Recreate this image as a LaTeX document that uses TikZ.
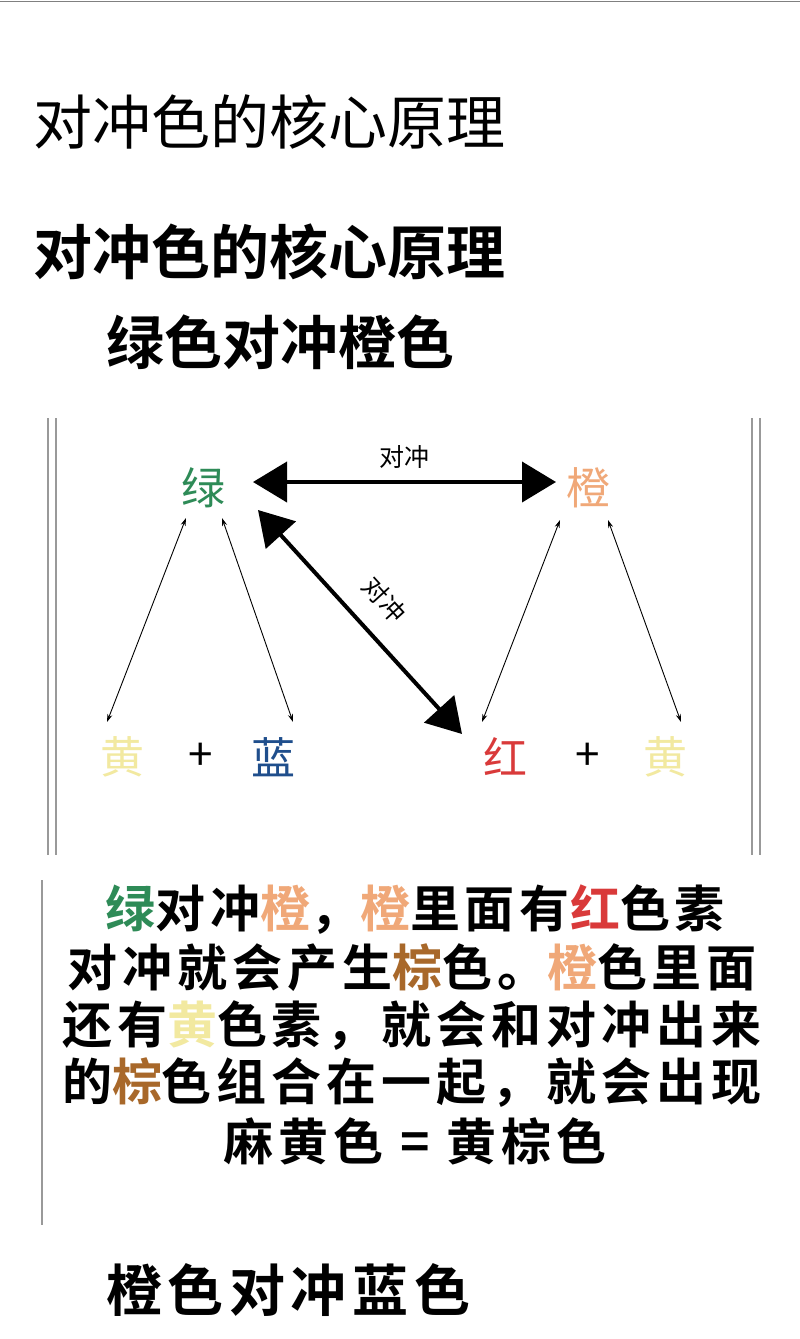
\documentclass[tikz,border=0pt]{standalone}
\usepackage{fontspec}
\usetikzlibrary{arrows.meta}
\newfontfamily\cjk{Noto Sans CJK SC}
\newfontfamily\cjkb[LetterSpace=10]{Noto Sans CJK SC Bold}
\definecolor{cgreen}{HTML}{2E8B57}
\definecolor{corange}{HTML}{F0A878}
\definecolor{cyellow}{HTML}{F2E9A0}
\definecolor{cblue}{HTML}{1F4E8C}
\definecolor{cred}{HTML}{D93A3A}
\definecolor{cbrown}{HTML}{A8682A}
\tikzset{
 lbl/.style={font=\cjk\fontsize{44}{48}\selectfont, inner sep=2pt},
 thin/.style={{Stealth[length=8pt,width=5pt]}-{Stealth[length=8pt,width=5pt]}, line width=0.9pt},
 thick/.style={{Triangle[length=34pt,width=40pt]}-{Triangle[length=34pt,width=40pt]}, line width=4pt},
 frame/.style={draw=black!40, line width=1.2pt},
 body/.style={font=\cjkb\fontsize{50}{54}\selectfont, inner sep=0pt},
 head/.style={font=\cjkb\fontsize{56}{60}\selectfont, inner sep=0pt, anchor=west}
}
\begin{document}
\begin{tikzpicture}[x=1pt,y=-1pt]
\useasboundingbox (0,0) rectangle (800,1339);
\fill[white] (0,0) rectangle (800,1339);
\draw[black!50, line width=1pt] (0,1) -- (800,1);
\node[anchor=west, inner sep=0pt, font=\cjk\fontsize{59}{62}\selectfont] (t1) at (33,122) {对冲色的核心原理};
\node[anchor=west, inner sep=0pt, font=\fontspec{Noto Sans CJK SC Bold}\fontsize{59}{62}\selectfont] (t2) at (33,252) {对冲色的核心原理};
\node[anchor=west, inner sep=0pt, font=\fontspec{Noto Sans CJK SC Bold}\fontsize{58}{62}\selectfont] (t3) at (106,342) {绿色对冲橙色};
% frame
\draw[frame] (48,418) -- (48,855); \draw[frame] (56,418) -- (56,855);
\draw[frame] (752,418) -- (752,855); \draw[frame] (760,418) -- (760,855);
% nodes
\node[lbl, text=cgreen] (g) at (203,488) {绿};
\node[lbl, text=corange] (o) at (588,488) {橙};
\node[lbl, text=cyellow] (y1) at (122,757) {黄};
\node[lbl] (p1) at (201,757) {+};
\node[lbl, text=cblue] (b) at (273,757) {蓝};
\node[lbl, text=cred] (r) at (505,757) {红};
\node[lbl] (p2) at (588,757) {+};
\node[lbl, text=cyellow] (y2) at (665,757) {黄};
\coordinate (gl) at (186,518); \coordinate (gr) at (222,518);
\coordinate (ol) at (560,520); \coordinate (or) at (608,520);
\coordinate (y1t) at (107,722); \coordinate (bt) at (293,722);
\coordinate (rt) at (482,722); \coordinate (y2t) at (681,722);
\draw[thin] (gl) -- (y1t);
\draw[thin] (gr) -- (bt);
\draw[thin] (ol) -- (rt);
\draw[thin] (or) -- (y2t);
\coordinate (h1) at (253,482); \coordinate (h2) at (556,482);
\draw[thick] (h1) -- node[above=8pt, font=\cjk\fontsize{25}{28}\selectfont] {对冲} (h2);
\coordinate (d1) at (258,510); \coordinate (d2) at (462,734);
\draw[thick] (d1) -- node[sloped, above=16pt, pos=0.5, font=\cjk\fontsize{25}{28}\selectfont] {对冲} (d2);
% text block
\draw[frame] (42,880) -- (42,1225);
\node[body] (l1) at (415,910) {\textcolor{cgreen}{绿}对冲\textcolor{corange}{橙}，\textcolor{corange}{橙}里面有\textcolor{cred}{红}色素};
\node[body] (l2) at (412,968) {对冲就会产生\textcolor{cbrown}{棕}色。\textcolor{corange}{橙}色里面};
\node[body] (l3) at (412,1026) {还有\textcolor{cyellow}{黄}色素，就会和对冲出来};
\node[body] (l4) at (412,1083) {的\textcolor{cbrown}{棕}色组合在一起，就会出现};
\node[body] (l5) at (415,1141) {麻黄色 = 黄棕色};
\node[head] (t4) at (106,1290) {橙色对冲蓝色};
\end{tikzpicture}
\end{document}
